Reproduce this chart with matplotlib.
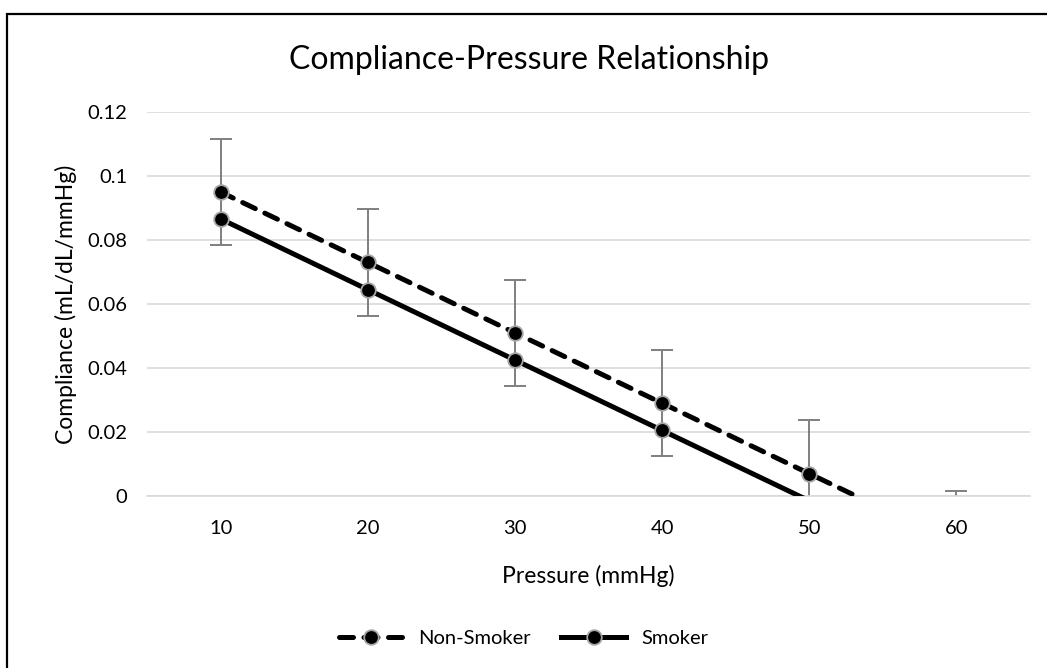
import matplotlib.pyplot as plt
from matplotlib.patches import Rectangle

pressure = [10, 20, 30, 40, 50, 60]
non_smoker = [0.095, 0.073, 0.051, 0.029, 0.007, -0.015]
smoker = [0.0866, 0.0645, 0.0425, 0.0205, -0.0015, -0.0235]
non_smoker_err = [0.0166, 0.0166, 0.0166, 0.0166, 0.0166, 0.0166]
y_ticks = [0, 0.02, 0.04, 0.06, 0.08, 0.1, 0.12]
y_labels = ["0", "0.02", "0.04", "0.06", "0.08", "0.1", "0.12"]

plt.rcParams['font.family'] = ['Lato', 'DejaVu Sans']

W, H = 1047, 668
fig = plt.figure(figsize=(W / 100, H / 100), dpi=100)
ax = fig.add_axes([147 / W, 1 - 496 / H, (1030 - 147) / W, (496 - 112) / H])

# chart frame (only left and top edges show in the reference)
fig.add_artist(Rectangle((7 / W, -0.1), 1.2, 1.1 - 14 / H, transform=fig.transFigure,
                         fill=False, edgecolor='black', linewidth=1.6))

ax.errorbar(pressure, non_smoker, yerr=non_smoker_err, fmt='none', ecolor='#7f7f7f',
            elinewidth=1.4, capsize=8, capthick=1.4, zorder=2)

# Excel hides markers that fall below the axis minimum
ns_marks = [i for i, v in enumerate(non_smoker) if v >= 0]
sm_marks = [i for i, v in enumerate(smoker) if v >= 0]
mk = dict(marker='o', markersize=10.5, markerfacecolor='black',
          markeredgecolor='#a6a6a6', markeredgewidth=1.3)
ax.plot(pressure, non_smoker, color='black', linewidth=3.6, linestyle=(0, (2.8, 2.1)),
        dash_capstyle='round', markevery=ns_marks, label='Non-Smoker', zorder=3, **mk)
ax.plot(pressure, smoker, color='black', linewidth=3.6, markevery=sm_marks,
        label='Smoker', zorder=3, **mk)

ax.set_xlim(5, 65)
ax.set_ylim(0, 0.12)
ax.set_xticks(pressure)
ax.set_xticklabels([str(p) for p in pressure])
ax.set_yticks(y_ticks)
ax.set_yticklabels(y_labels)
ax.grid(axis='y', color='#d9d9d9', linewidth=1.2)
ax.set_axisbelow(True)
for s in ['top', 'right', 'left']:
    ax.spines[s].set_visible(False)
ax.spines['bottom'].set_color('#d9d9d9')
ax.spines['bottom'].set_linewidth(1.2)
ax.tick_params(length=0, labelsize=14.5, colors='black')
ax.tick_params(axis='x', pad=17)
ax.tick_params(axis='y', pad=14)

ax.set_xlabel('Pressure (mmHg)', fontsize=16.5, color='black', va='center')
ax.xaxis.set_label_coords(0.5, (496 - 576) / 384)
ax.set_ylabel('Compliance (mL/dL/mmHg)', fontsize=16.5, color='black', va='center')
ax.yaxis.set_label_coords((66 - 147) / 883, 0.5)
fig.text(0.505, 1 - 60 / H, 'Compliance-Pressure Relationship', fontsize=23,
         ha='center', va='center', color='black')

fig.legend(loc='center', bbox_to_anchor=(0.5, 1 - 638 / H), ncol=2, frameon=False,
           fontsize=14.5, handlelength=3.2, handletextpad=0.75, columnspacing=1.5)

fig.savefig('out.png', dpi=100)
